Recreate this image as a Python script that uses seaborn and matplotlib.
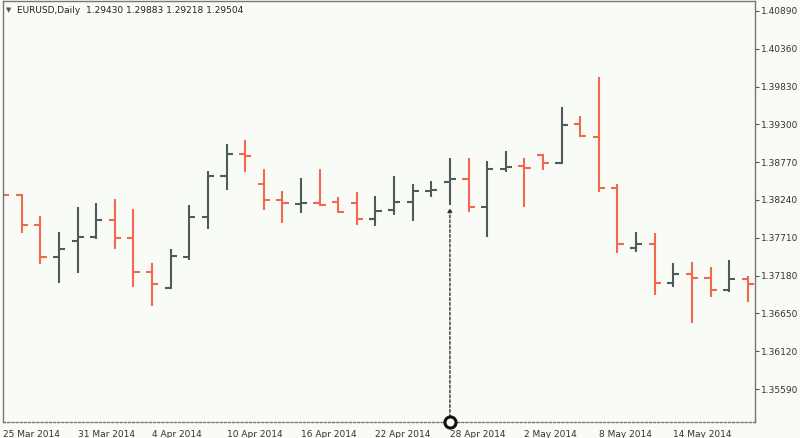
import numpy as np
import pandas as pd
import seaborn as sns
import matplotlib.pyplot as plt

# daily EURUSD bars
opens = [1.38370, 1.38303, 1.37884, 1.37436, 1.37660, 1.37716, 1.37954, 1.37702, 1.37226, 1.37003,
         1.37436, 1.37996, 1.38583, 1.38890, 1.38471, 1.38233, 1.38184, 1.38191, 1.38205, 1.38191,
         1.37968, 1.38093, 1.38205, 1.38359, 1.38499, 1.38541, 1.38135, 1.38681, 1.38723, 1.38877,
         1.38765, 1.39310, 1.39128, 1.38415, 1.37562, 1.37618, 1.37073, 1.37198, 1.37142, 1.36975,
         1.37129]
highs = [1.38420, 1.38317, 1.38010, 1.37786, 1.38135, 1.38191, 1.38247, 1.38107, 1.37352, 1.37548,
         1.38163, 1.38653, 1.39030, 1.39086, 1.38681, 1.38359, 1.38555, 1.38681, 1.38275, 1.38345,
         1.38289, 1.38583, 1.38471, 1.38513, 1.38835, 1.38835, 1.38793, 1.38932, 1.38835, 1.38890,
         1.39548, 1.39422, 1.39967, 1.38471, 1.37786, 1.37772, 1.37352, 1.37366, 1.37296, 1.37394,
         1.37170]
lows = [1.38260, 1.37772, 1.37338, 1.37073, 1.37212, 1.37688, 1.37548, 1.37017, 1.36751, 1.36989,
        1.37394, 1.37828, 1.38373, 1.38639, 1.38093, 1.37912, 1.38051, 1.38149, 1.38051, 1.37884,
        1.37870, 1.38023, 1.37940, 1.38275, 1.38163, 1.38065, 1.37716, 1.38639, 1.38135, 1.38667,
        1.38751, 1.39128, 1.38345, 1.37492, 1.37506, 1.36905, 1.37017, 1.36513, 1.36877, 1.36947,
        1.36807]
closes = [1.38303, 1.37884, 1.37436, 1.37548, 1.37716, 1.37954, 1.37702, 1.37226, 1.37059, 1.37450,
          1.37996, 1.38583, 1.38890, 1.38863, 1.38233, 1.38191, 1.38198, 1.38163, 1.38065, 1.37968,
          1.38079, 1.38205, 1.38359, 1.38380, 1.38541, 1.38135, 1.38681, 1.38709, 1.38695, 1.38765,
          1.39296, 1.39135, 1.38415, 1.37618, 1.37618, 1.37073, 1.37198, 1.37142, 1.36975, 1.37129,
          1.37059]

date_ticks = [0, 4, 8, 12, 16, 20, 24, 28, 32, 36]
date_labels = ['25 Mar 2014', '31 Mar 2014', '4 Apr 2014', '10 Apr 2014', '16 Apr 2014',
               '22 Apr 2014', '28 Apr 2014', '2 May 2014', '8 May 2014', '14 May 2014']
price_ticks = [1.35590, 1.36120, 1.36650, 1.37180, 1.37710, 1.38240,
               1.38770, 1.39300, 1.39830, 1.40360, 1.40890]
header = 'EURUSD,Daily  1.29430 1.29883 1.29218 1.29504'
marked_bar = 24

df = pd.DataFrame({'open': opens, 'high': highs, 'low': lows, 'close': closes})
df['x'] = np.arange(len(df))
df['up'] = df['close'] >= df['open']

bg = '#f9fcf6'
up_col = '#4f5a5a'
down_col = '#f0694f'

sns.set_style('white', {'axes.facecolor': bg, 'figure.facecolor': bg})
plt.rcParams['font.family'] = ['DejaVu Sans']

fig = plt.figure(figsize=(8, 4.38), dpi=100)
ax = fig.add_axes([0.004, 0.0365, 0.94, 0.9615])

colors = np.where(df['up'], up_col, down_col)
w = 0.33
ax.vlines(df['x'], df['low'], df['high'], colors=colors, lw=1.5)
ax.hlines(df['open'], df['x'] - w, df['x'], colors=colors, lw=1.5)
ax.hlines(df['close'], df['x'], df['x'] + w, colors=colors, lw=1.5)

ax.set_xlim(0.08, 40.4)
ax.set_ylim(1.35129, 1.41030)

# dotted pointer to the marked bar
ybot = ax.get_ylim()[0]
ax.annotate('', xy=(marked_bar, df['low'][marked_bar] - 0.0003), xytext=(marked_bar, ybot),
            arrowprops=dict(arrowstyle='-|>', ls=(0, (2, 1.5)), lw=1, color='#333333',
                            mutation_scale=6, shrinkA=0, shrinkB=0))
ax.plot([marked_bar], [ybot], marker='o', ms=8, mfc=bg, mec='#111111', mew=2.2,
        clip_on=False, zorder=5)

ax.yaxis.tick_right()
ax.set_yticks(price_ticks)
ax.set_yticklabels([f'{p:.5f}' for p in price_ticks])
ax.set_xticks(date_ticks)
ax.set_xticklabels(date_labels, ha='left')
ax.tick_params(axis='both', labelsize=6.5, colors='#555555', labelcolor='#333333',
               length=3, width=0.8, direction='out', pad=1.5)
ax.tick_params(axis='x', pad=3)
for lbl in ax.get_xticklabels():
    lbl.set_x(0)

for s in ['left', 'right', 'top', 'bottom']:
    ax.spines[s].set_color('#777777')
    ax.spines[s].set_linewidth(1)
ax.spines['bottom'].set_linestyle((0, (1.5, 1.5)))

ax.text(0.004, 0.985, '\u25bc', transform=ax.transAxes, fontsize=5, color='#555555',
        va='top', ha='left')
ax.text(0.019, 0.988, header, transform=ax.transAxes, fontsize=6.5, color='#222222',
        va='top', ha='left')

fig.savefig('out.png', dpi=100, facecolor=bg)
